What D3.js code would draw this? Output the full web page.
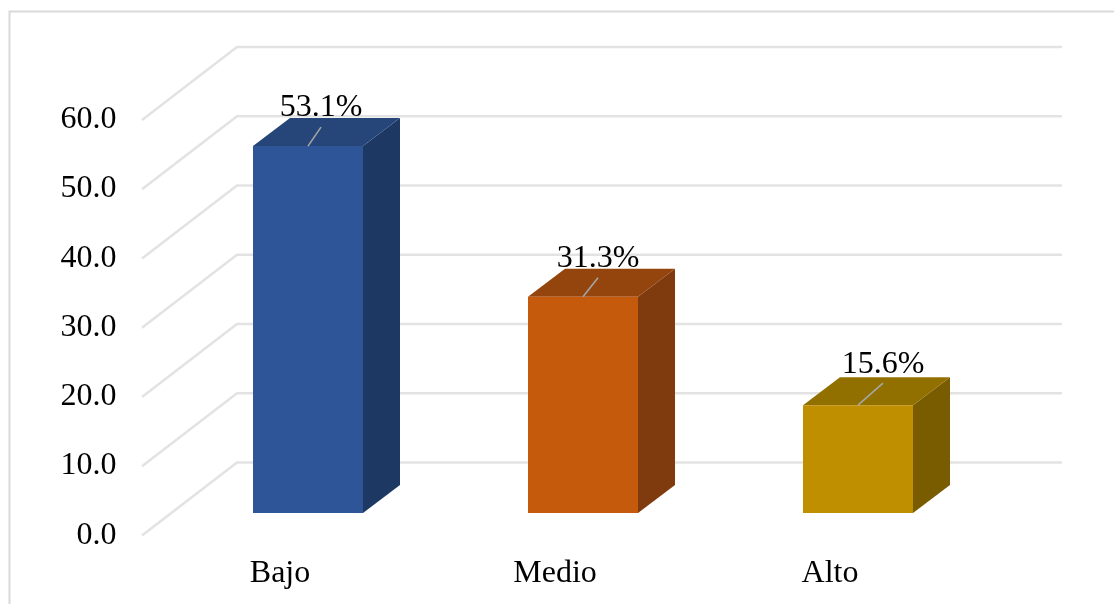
<!DOCTYPE html>
<html><head><meta charset="utf-8">
<script src="https://cdn.jsdelivr.net/npm/d3@7"></script>
<style>html,body{margin:0;padding:0;background:#fff}svg{display:block}text{font-family:"Liberation Serif",serif;fill:#000}</style>
</head><body><svg id="c" width="1114" height="604"></svg>
<script>
const categories=["Bajo","Medio","Alto"];
const values=[53.1,31.3,15.6];
const valueLabels=["53.1%","31.3%","15.6%"];
const yTicks=[0,10,20,30,40,50,60];
const frontColors=["#2f5597","#c55a11","#bf8f00"];
const topColors=["#264478","#93440a","#917000"];
const sideColors=["#1f3864","#7f3a0b","#7a5c00"];
const labelShift=[13,15,25];
const labelLift=[30,30,32];

const svg=d3.select("#c");
svg.append("defs").append("filter").attr("id","soft").append("feGaussianBlur").attr("stdDeviation",0.45);
const root=svg.append("g").attr("filter","url(#soft)");
const yBack=d3.scaleLinear().domain([0,60]).range([462.5,47]);
const yBar=d3.scaleLinear().domain([0,60]).range([513,98.4]);
const x=d3.scalePoint().domain(categories).range([308,858]);
const depth={dx:37,dy:-28}, wall={dx:-95,dy:73}, barW=110, rightEnd=1062;

root.append("path").attr("d","M9.5,604V11.5H1114").attr("fill","none").attr("stroke","#d9d9d9").attr("stroke-width",2);

const grid=root.append("g").attr("fill","none").attr("stroke","#e3e3e3").attr("stroke-width",2.6);
yTicks.forEach(t=>{
  const y=yBack(t);
  grid.append("path").attr("d",d3.line()([[237+wall.dx,y+wall.dy],[237,y],[rightEnd,y]]));
});

const yAxis=root.append("g");
yTicks.forEach(t=>{
  yAxis.append("text").attr("x",116.5).attr("y",yBack(t)+wall.dy+8).attr("text-anchor","end")
    .attr("font-size",32).text(t.toFixed(1));
});

categories.forEach((c,i)=>{
  const cx=x(c), l=cx-barW/2, r=cx+barW/2, t=yBar(values[i]), b=yBar(0), g=root.append("g");
  const poly=(pts,f)=>g.append("polygon").attr("points",pts.join(" ")).attr("fill",f);
  poly([[r,t],[r+depth.dx,t+depth.dy],[r+depth.dx,b+depth.dy],[r,b]],sideColors[i]);
  poly([[l,t],[l+depth.dx,t+depth.dy],[r+depth.dx,t+depth.dy],[r,t]],topColors[i]);
  poly([[l,t],[r,t],[r,b],[l,b]],frontColors[i]);
  const s=labelShift[i];
  g.append("line").attr("x1",cx).attr("y1",t).attr("x2",cx+s).attr("y2",t-(i===2?22:19))
    .attr("stroke","#a6a6a6").attr("stroke-width",1.6);
  g.append("text").attr("x",cx+s).attr("y",t-labelLift[i]).attr("text-anchor","middle").attr("font-size",32).text(valueLabels[i]);
});

const xAxis=root.append("g");
categories.forEach((c,i)=>{
  xAxis.append("text").attr("x",x(c)-28).attr("y",582).attr("text-anchor","middle").attr("font-size",32).text(c);
});
</script></body></html>
